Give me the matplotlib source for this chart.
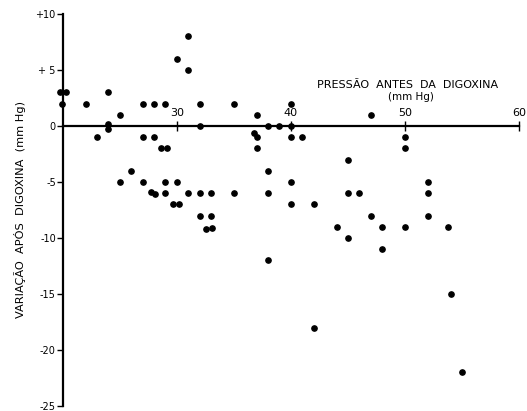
import matplotlib
matplotlib.use('Agg')
import matplotlib.pyplot as plt

# pressure before digoxin (mm Hg) and change after digoxin (mm Hg)
pressao = [19.8, 20.3, 19.9, 22, 24, 25, 24, 24, 23,
           27, 28, 29, 27, 28, 28.6, 29.1, 26, 25, 27, 29, 30,
           27.7, 28.1, 29, 31, 32, 33, 35, 29.7, 30.2, 32, 33, 32.6, 33.1,
           31, 30, 31, 32, 35, 37, 40, 32, 38, 39, 40,
           36.8, 37, 37, 40, 41, 38, 38, 38, 40, 40, 42,
           45, 45, 46, 45, 44, 47, 48, 48, 50, 50, 50,
           52, 52, 52, 53.8, 54, 42, 55, 47]
variacao = [3, 3, 2, 2, 3, 1, 0.2, -0.3, -1,
            2, 2, 2, -1, -1, -2, -2, -4, -5, -5, -5, -5,
            -5.9, -6.1, -6, -6, -6, -6, -6, -7, -7, -8, -8, -9.2, -9.1,
            8, 6, 5, 2, 2, 1, 2, 0, 0, 0, 0,
            -0.6, -1, -2, -1, -1, -4, -6, -12, -5, -7, -7,
            -3, -6, -6, -10, -9, -8, -9, -11, -1, -2, -9,
            -5, -6, -8, -9, -15, -18, -22, 1]

xticks = [30, 40, 50, 60]
yticks = [10, 5, 0, -5, -10, -15, -20, -25]
ylabels = ['+10', '+ 5', '0', '-5', '-10', '-15', '-20', '-25']

fig = plt.figure(figsize=(5.27, 4.11), dpi=100)
ax = fig.add_axes([0.119, 0.012, 0.866, 0.954])

ax.plot(pressao, variacao, 'o', color='black', markersize=3.8, clip_on=False, zorder=3)

ax.set_xlim(20, 60)
ax.set_ylim(-25, 10)

# axes: left spine at x=20, x axis through zero
for s in ['top', 'right']:
    ax.spines[s].set_visible(False)
ax.spines['bottom'].set_position(('data', 0))
ax.spines['bottom'].set_linewidth(1.6)
ax.spines['left'].set_linewidth(1.6)

ax.set_yticks(yticks)
ax.set_yticklabels(ylabels)
ax.tick_params(axis='y', direction='out', length=4, width=1, pad=1, labelsize=7)

ax.set_xticks(xticks)
ax.set_xticklabels([])
ax.tick_params(axis='x', direction='inout', length=7, width=1)
for t in xticks:
    ax.text(t, 0.75, str(t), ha='center', va='bottom', fontsize=8)

# axis titles
ax.text(50.2, 3.7, 'PRESSÃO  ANTES  DA  DIGOXINA', ha='center', va='center', fontsize=8)
ax.text(50.5, 2.6, '(mm Hg)', ha='center', va='center', fontsize=7.5)
fig.text(0.038, 0.49, 'VARIAÇÃO  APÓS  DIGOXINA  (mm Hg)', rotation=90,
         ha='center', va='center', fontsize=8.2)

fig.savefig('out.png', dpi=100)
